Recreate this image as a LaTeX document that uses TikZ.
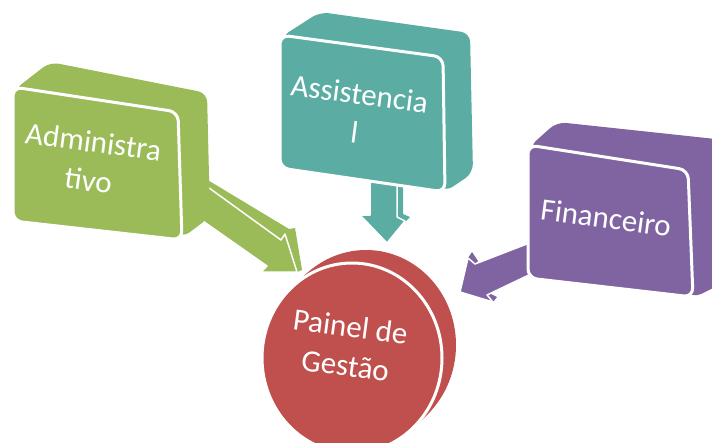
\documentclass[tikz,border=0pt]{standalone}
\usepackage{fontspec}
\setmainfont{Carlito}
\definecolor{cgreen}{RGB}{155,187,89}
\definecolor{cteal}{RGB}{91,173,164}
\definecolor{cpurple}{RGB}{128,100,162}
\definecolor{cred}{RGB}{192,80,77}
\begin{document}
\begin{tikzpicture}[x=1pt,y=-1pt,
  face/.style={draw=white, line width=3pt, rounded corners=9pt},
  backface/.style={rounded corners=9pt},
  arrowface/.style={draw=white, line width=1.5pt, line join=round},
  lbl/.style={text=white, font=\fontsize{31}{39}\selectfont, align=center, rotate=-7.5, inner sep=0pt}]
\useasboundingbox (0,0) rectangle (712,442);
\clip (0,0) rectangle (712,442);
% red cylinder
\foreach \t in {1,0.9,...,0.0}
  \fill[cred] ({352+14*\t},{358-13*\t}) ellipse [x radius=90, y radius=95];
\draw[white, line width=3pt, fill=cred] (352,358) ellipse [x radius=90, y radius=95];
% green arrow
\fill[cgreen] (206,179) -- (289,229) -- (295,228) -- (302,270) -- (297,272) -- (285,234) -- (281,240) -- (205,185) -- cycle;
\filldraw[fill=cgreen, arrowface] (205,185) -- (281,240) -- (285,234) -- (297,272) -- (261,272) -- (267,266) -- (200,219) -- cycle;
% teal arrow
\fill[cteal] (397,180) -- (403,180) -- (403,214) -- (410,217) -- (405,222) -- (397,217) -- cycle;
\filldraw[fill=cteal, arrowface] (370,180) -- (397,180) -- (397,217) -- (405,221) -- (387,243) -- (360,215) -- (370,215) -- cycle;
% purple arrow
\fill[cpurple] (468,258) -- (472,252) -- (478,261) -- (475,264) -- cycle;
\fill[cpurple] (493,302) -- (497,297) -- (491,294) -- (487,295) -- cycle;
\filldraw[fill=cpurple, arrowface] (532,242) -- (475,264) -- (468,258) -- (460,292) -- (493,302) -- (487,295) -- (533,273) -- cycle;
% green box
\fill[cgreen, backface] (14,90) -- (50,62) -- (207,93) -- (210,217) -- (182,238) -- cycle;
\filldraw[fill=cgreen, face] (13,87) -- (178,112) -- (182,240) -- (13,221) -- cycle;
% teal box
\fill[cteal, backface] (281,37) -- (320,12) -- (470,33) -- (473,173) -- (445,192) -- cycle;
\filldraw[fill=cteal, face] (280,35) -- (443,57) -- (445,192) -- (280,168) -- cycle;
% purple box
\fill[cpurple, backface] (529,147) -- (557,122) -- (725,140) -- (725,282) -- (693,298) -- cycle;
\filldraw[fill=cpurple, face] (528,145) -- (688,170) -- (693,297) -- (528,278) -- cycle;
% labels
\node[lbl] (adm) at (91,161) {Administra\\tivo};
\node[lbl] (ass) at (357,113) {Assistencia\\l};
\node[lbl] (fin) at (606,218) {Financeiro};
\node[lbl] (pg) at (348,346) {Painel de\\Gestão};
\end{tikzpicture}
\end{document}
